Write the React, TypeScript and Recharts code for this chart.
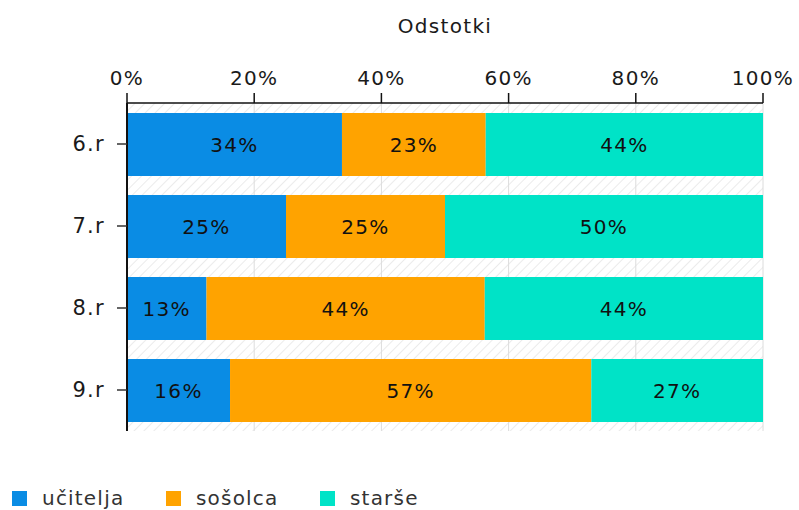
import React from 'react';
import { BarChart, Bar, XAxis, YAxis, CartesianGrid, Legend, LabelList, Label } from 'recharts';

const categories = ['6.r', '7.r', '8.r', '9.r'];
const ucitelja = [33.8, 25, 12.5, 16.2];
const sosolca = [22.6, 25, 43.75, 56.8];
const starse = [43.6, 50, 43.75, 27.0];
const xTicks = [0, 20, 40, 60, 80, 100];
const seriesNames = ['učitelja', 'sošolca', 'starše'];
const seriesColors = ['#0a8ce4', '#ffa300', '#00e3c7'];
const axisTitle = 'Odstotki';

const data = categories.map((c, i) => ({
  cat: c,
  ucitelja: ucitelja[i],
  sosolca: sosolca[i],
  starse: starse[i],
}));

const keys = ['ucitelja', 'sosolca', 'starse'];

const fmt = (v: any) => `${Math.round(Number(v))}%`;

const LegendContent = () => {
  return (
    <div style={{ display: 'flex', paddingLeft: 12 }}>
      {seriesNames.map((name, i) => (
        <div key={name} style={{ width: 154, display: 'flex', alignItems: 'center' }}>
          <span style={{ display: 'inline-block', width: 15, height: 15, background: seriesColors[i], marginRight: 15 }} />
          <span style={{ fontSize: 20, color: '#333', letterSpacing: 1.2 }}>{name}</span>
        </div>
      ))}
    </div>
  );
};

export default function App() {
  return (
    <div style={{ position: 'absolute', left: 0, top: 0, fontFamily: '"DejaVu Sans", Verdana, sans-serif' }}>
      <BarChart
        width={799}
        height={510}
        data={data}
        layout="vertical"
        margin={{ top: 43, right: 36, bottom: 79, left: 0 }}
        barSize={63}
        style={{ fontFamily: '"DejaVu Sans", Verdana, sans-serif', letterSpacing: 1.3 }}
      >
        <defs>
          <pattern id="hatch" width="7" height="7" patternUnits="userSpaceOnUse" patternTransform="rotate(45)">
            <rect width="7" height="7" fill="#ffffff" />
            <line x1="0" y1="0" x2="0" y2="7" stroke="#ebebeb" strokeWidth="2" />
          </pattern>
        </defs>
        <CartesianGrid horizontal={false} stroke="#dcdcdc" fill="url(#hatch)" />
        <XAxis
          type="number"
          orientation="top"
          domain={[0, 100]}
          ticks={xTicks}
          tickFormatter={(v: number) => `${v}%`}
          height={60}
          tickSize={10}
          tickMargin={8}
          axisLine={{ stroke: '#111', strokeWidth: 1.5 }}
          tickLine={{ stroke: '#111', strokeWidth: 1.5 }}
          tick={{ fontSize: 20, fill: '#1a1a1a' }}
          interval={0}
        >
          <Label value={axisTitle} position="top" offset={10} style={{ fontSize: 20, fill: '#1a1a1a' }} />
        </XAxis>
        <YAxis
          type="category"
          dataKey="cat"
          width={127}
          tickSize={10}
          tickMargin={12}
          axisLine={{ stroke: '#111', strokeWidth: 2 }}
          tickLine={{ stroke: '#333', strokeWidth: 1.5 }}
          tick={{ fontSize: 21, fill: '#1a1a1a' }}
        />
        {keys.map((k, i) => (
          <Bar key={k} dataKey={k} name={seriesNames[i]} stackId="a" fill={seriesColors[i]} isAnimationActive={false}>
            <LabelList dataKey={k} position="center" formatter={fmt} style={{ fontSize: 20, fill: '#111' }} />
          </Bar>
        ))}
        <Legend
          layout="horizontal"
          verticalAlign="middle"
          align="center"
          content={<LegendContent />}
          wrapperStyle={{ left: 0, top: 486, width: 799 }}
        />
      </BarChart>
    </div>
  );
}
